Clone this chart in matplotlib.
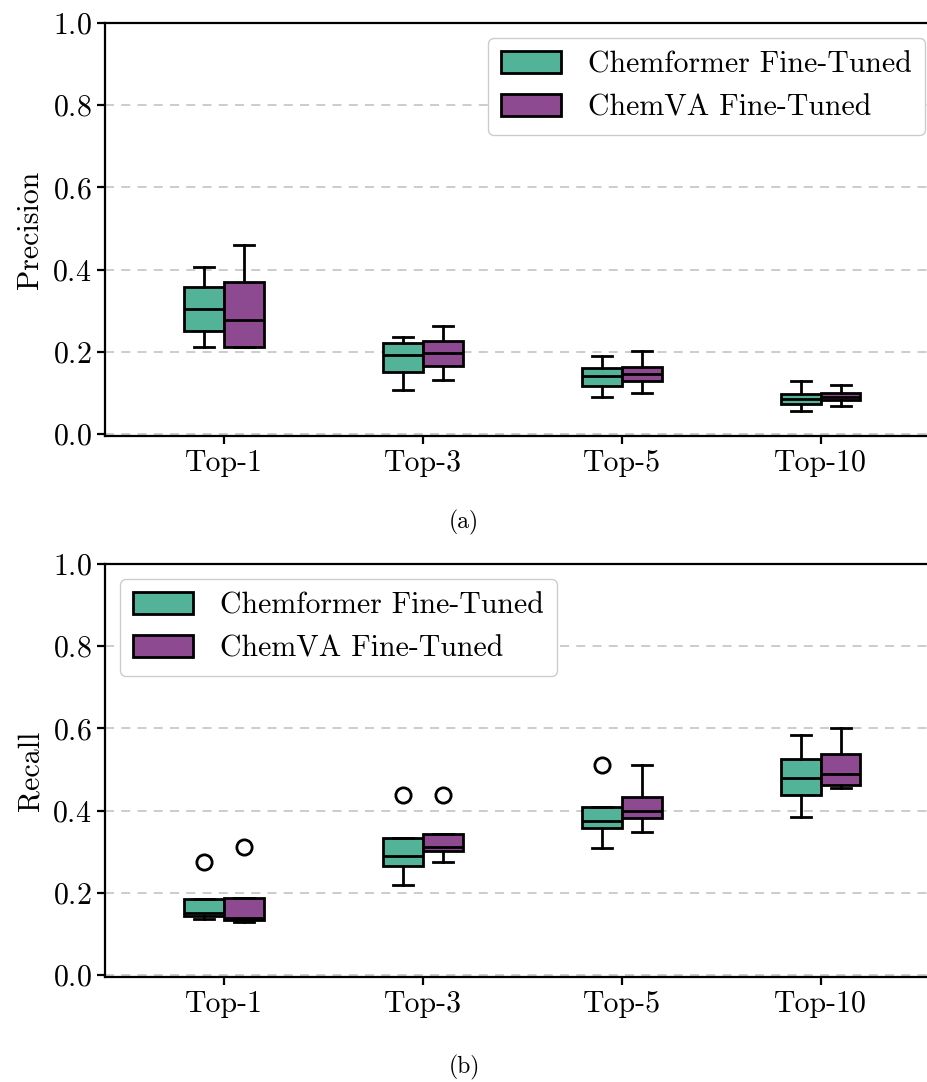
import matplotlib
matplotlib.use("Agg")
import matplotlib.pyplot as plt
from matplotlib.patches import Patch

plt.rcParams['font.family'] = 'cmr10'
plt.rcParams['mathtext.fontset'] = 'cm'
plt.rcParams['axes.formatter.use_mathtext'] = True

cats = ["Top-1", "Top-3", "Top-5", "Top-10"]
names = ["Chemformer Fine-Tuned", "ChemVA Fine-Tuned"]
colors = ["#52b398", "#8e4a91"]

# precision: whislo, q1, med, q3, whishi
prec_chem_lo = [0.211, 0.106, 0.090, 0.057]
prec_chem_q1 = [0.250, 0.152, 0.117, 0.073]
prec_chem_med = [0.303, 0.192, 0.140, 0.085]
prec_chem_q3 = [0.358, 0.222, 0.161, 0.098]
prec_chem_hi = [0.406, 0.237, 0.190, 0.130]

prec_va_lo = [0.211, 0.132, 0.100, 0.067]
prec_va_q1 = [0.211, 0.166, 0.129, 0.082]
prec_va_med = [0.277, 0.196, 0.145, 0.091]
prec_va_q3 = [0.371, 0.227, 0.164, 0.099]
prec_va_hi = [0.460, 0.263, 0.201, 0.120]

# recall
rec_chem_lo = [0.136, 0.220, 0.310, 0.384]
rec_chem_q1 = [0.144, 0.265, 0.358, 0.437]
rec_chem_med = [0.151, 0.289, 0.375, 0.480]
rec_chem_q3 = [0.186, 0.333, 0.410, 0.525]
rec_chem_hi = [0.186, 0.333, 0.410, 0.583]
rec_chem_out = [[0.274], [0.437], [0.511], []]

rec_va_lo = [0.128, 0.274, 0.347, 0.456]
rec_va_q1 = [0.133, 0.301, 0.382, 0.462]
rec_va_med = [0.138, 0.312, 0.399, 0.490]
rec_va_q3 = [0.187, 0.343, 0.433, 0.537]
rec_va_hi = [0.187, 0.343, 0.511, 0.601]
rec_va_out = [[0.311], [0.437], [], []]


def stats(lo, q1, med, q3, hi, out=None):
    res = []
    for i in range(len(lo)):
        res.append(dict(whislo=lo[i], q1=q1[i], med=med[i], q3=q3[i], whishi=hi[i],
                        fliers=out[i] if out else []))
    return res


fig = plt.figure(figsize=(9.28, 10.82), dpi=100)
# right side of the original figure is cropped, so the axes run past the edge
ax1 = fig.add_axes([0.1131, 0.597, 0.8998, 0.3817])
ax2 = fig.add_axes([0.1131, 0.097, 0.8998, 0.3817])

panels = [
    (ax1, [stats(prec_chem_lo, prec_chem_q1, prec_chem_med, prec_chem_q3, prec_chem_hi),
           stats(prec_va_lo, prec_va_q1, prec_va_med, prec_va_q3, prec_va_hi)],
     "Precision", "upper right", "(a)", 0.517),
    (ax2, [stats(rec_chem_lo, rec_chem_q1, rec_chem_med, rec_chem_q3, rec_chem_hi, rec_chem_out),
           stats(rec_va_lo, rec_va_q1, rec_va_med, rec_va_q3, rec_va_hi, rec_va_out)],
     "Recall", "upper left", "(b)", 0.013),
]

fs = 21.5
lw = 2.0
for ax, series, ylab, loc, cap, capy in panels:
    ax.set_axisbelow(True)
    ax.yaxis.grid(True, linestyle=(0, (5, 4)), color='#c8c8c8', linewidth=1.3)
    for j, st in enumerate(series):
        pos = [i + (-0.1 if j == 0 else 0.1) for i in range(len(cats))]
        ax.bxp(st, positions=pos, widths=0.2, patch_artist=True, manage_ticks=False,
               boxprops=dict(facecolor=colors[j], edgecolor='black', linewidth=lw),
               medianprops=dict(color='black', linewidth=lw),
               whiskerprops=dict(color='black', linewidth=lw),
               capprops=dict(color='black', linewidth=lw),
               flierprops=dict(marker='o', markerfacecolor='none', markeredgecolor='black',
                               markersize=11, markeredgewidth=2))
    ax.set_xticks(range(len(cats)))
    ax.set_xticklabels(cats)
    ax.set_xlim(-0.6, 3.6)
    ax.set_ylim(-0.005, 1.0)
    ax.set_yticks([0.0, 0.2, 0.4, 0.6, 0.8, 1.0])
    ax.tick_params(labelsize=fs, width=1.6, length=6)
    for sp in ax.spines.values():
        sp.set_linewidth(1.6)
    ax.set_ylabel(ylab, fontsize=fs, labelpad=6)
    handles = [Patch(facecolor=colors[k], edgecolor='black', linewidth=lw, label=names[k])
               for k in range(2)]
    ax.legend(handles=handles, loc=loc, fontsize=fs, handlelength=2.0, handleheight=0.75,
              handletextpad=0.9, edgecolor='#cccccc', framealpha=1.0, borderpad=0.45)
    fig.text(0.5, capy, cap, fontsize=17, ha='center', va='center')

fig.savefig("out.png", dpi=100)
